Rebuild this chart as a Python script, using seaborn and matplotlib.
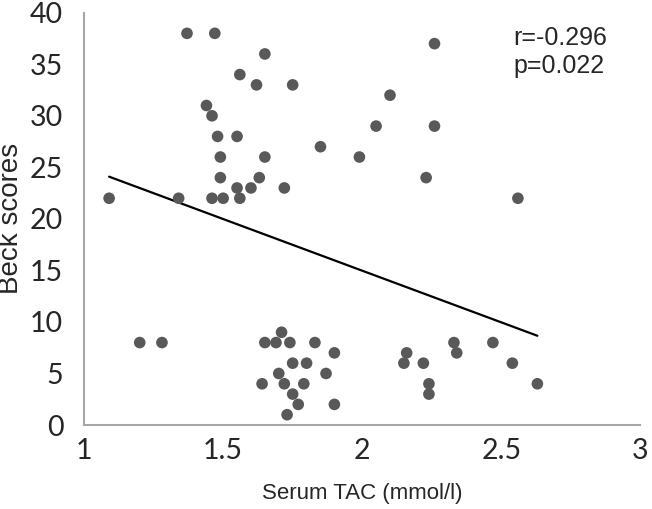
import pandas as pd
import matplotlib
matplotlib.use("Agg")
import matplotlib.pyplot as plt
import seaborn as sns

# Serum TAC (mmol/l) vs Beck depression scores
tac = [1.37, 1.47, 1.65, 1.56, 1.62, 1.75, 2.10, 1.44, 1.46, 2.05,
       2.26, 2.26, 1.48, 1.55, 1.85, 1.49, 1.65, 1.99, 1.49, 1.63,
       2.23, 1.55, 1.60, 1.72, 1.09, 1.34, 1.46, 1.50, 1.56, 2.56,
       1.20, 1.28, 1.71, 1.65, 1.69, 1.74, 1.83, 1.90, 1.75, 1.80,
       1.70, 1.87, 1.64, 1.72, 1.79, 1.75, 1.77, 1.90, 1.73, 2.16,
       2.15, 2.22, 2.33, 2.34, 2.47, 2.54, 2.24, 2.24, 2.63]
beck = [38, 38, 36, 34, 33, 33, 32, 31, 30, 29,
        29, 37, 28, 28, 27, 26, 26, 26, 24, 24,
        24, 23, 23, 23, 22, 22, 22, 22, 22, 22,
        8, 8, 9, 8, 8, 8, 8, 7, 6, 6,
        5, 5, 4, 4, 4, 3, 2, 2, 1, 7,
        6, 6, 8, 7, 8, 6, 4, 3, 4]
stats_text = ["r=-0.296", "p=0.022"]
x_ticks = [1, 1.5, 2, 2.5, 3]
y_ticks = [0, 5, 10, 15, 20, 25, 30, 35, 40]

df = pd.DataFrame({"TAC": tac, "Beck": beck})

sns.set_style("white")
plt.rcParams["font.family"] = ["Liberation Sans", "DejaVu Sans"]

fig = plt.figure(figsize=(6.52, 5.09), dpi=100)
ax = fig.add_axes([0.129, 0.165, 0.853, 0.81])

sns.scatterplot(data=df, x="TAC", y="Beck", ax=ax, color="#595959",
                s=70, edgecolor="none", zorder=3)
sns.regplot(data=df, x="TAC", y="Beck", ax=ax, scatter=False, ci=None,
            truncate=True, color="black", line_kws={"linewidth": 1.6})

ax.set_xlim(1, 3)
ax.set_ylim(0, 40)
ax.set_xticks(x_ticks)
ax.set_xticklabels([f"{t:g}" for t in x_ticks], family="Lato", fontsize=20.5)
ax.set_yticks(y_ticks)
ax.set_yticklabels([str(t) for t in y_ticks], family="Lato", fontsize=20.5)
ax.tick_params(length=0)
ax.tick_params(axis="y", pad=15)
ax.tick_params(axis="x", pad=9)

ax.set_xlabel("Serum TAC (mmol/l)", fontsize=16, labelpad=14)
ax.set_ylabel("Beck scores", fontsize=20, labelpad=4)

for side in ["top", "right"]:
    ax.spines[side].set_visible(False)
for side in ["left", "bottom"]:
    ax.spines[side].set_color("#a6a6a6")
    ax.spines[side].set_linewidth(1.5)

ax.text(0.772, 0.968, "\n".join(stats_text), transform=ax.transAxes,
        fontsize=18, va="top", ha="left", linespacing=1.22)

fig.savefig("out.png", dpi=100)
